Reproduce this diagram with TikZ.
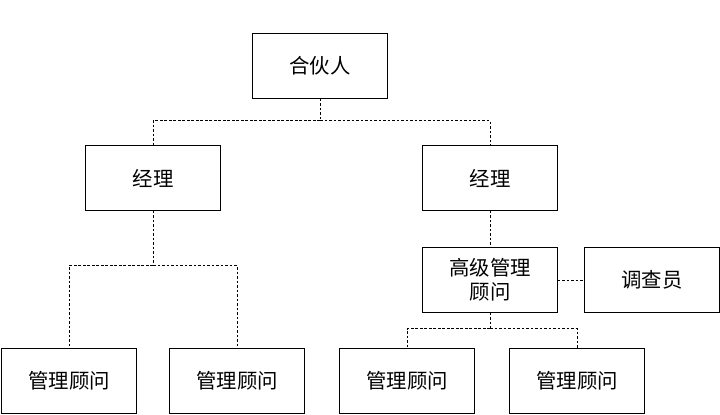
\documentclass[tikz,border=0pt]{standalone}
\usepackage{fontspec}
\newfontfamily\cjk{Noto Sans CJK SC}
\usetikzlibrary{positioning}
\tikzset{
  post/.style={draw, line width=0.8pt, minimum width=3.375cm, minimum height=1.625cm,
    inner sep=0pt, outer sep=0pt, align=center, font=\cjk\fontsize{14.5}{17}\selectfont},
  link/.style={line width=0.7pt, dash pattern=on 2pt off 1.2pt}
}

\begin{document}
\begin{tikzpicture}[x=0.025cm,y=-0.025cm]
  \useasboundingbox (0,0) rectangle (720,414);

  % boxes
  \node[post] (partner) at (320,66) {合伙人};
  \node[post] (mgrL) at (153,178) {经理};
  \node[post] (mgrR) at (490,178) {经理};
  \node[post] (senior) at (490,280) {高级管理\\顾问};
  \node[post] (survey) at (652,280) {调查员};
  \node[post] (consA) at (69,381) {管理顾问};
  \node[post] (consB) at (237,381) {管理顾问};
  \node[post] (consC) at (407,381) {管理顾问};
  \node[post] (consD) at (577,381) {管理顾问};

  % partner to managers
  \draw[link] (partner.south) -- ++(0,22) coordinate (busTop);
  \draw[link] (busTop) -| (mgrL.north);
  \draw[link] (busTop) -| (mgrR.north);

  % left manager to consultants
  \draw[link] (mgrL.south) -- ++(0,55) coordinate (busL);
  \draw[link] (busL) -| (consA.north);
  \draw[link] (busL) -| (consB.north);

  % right manager branch
  \draw[link] (mgrR.south) -- (senior.north);
  \draw[link] (senior.east) -- (survey.west);
  \draw[link] (senior.south) -- ++(0,16) coordinate (busR);
  \draw[link] (busR) -| (consC.north);
  \draw[link] (busR) -| (consD.north);
\end{tikzpicture}
\end{document}
